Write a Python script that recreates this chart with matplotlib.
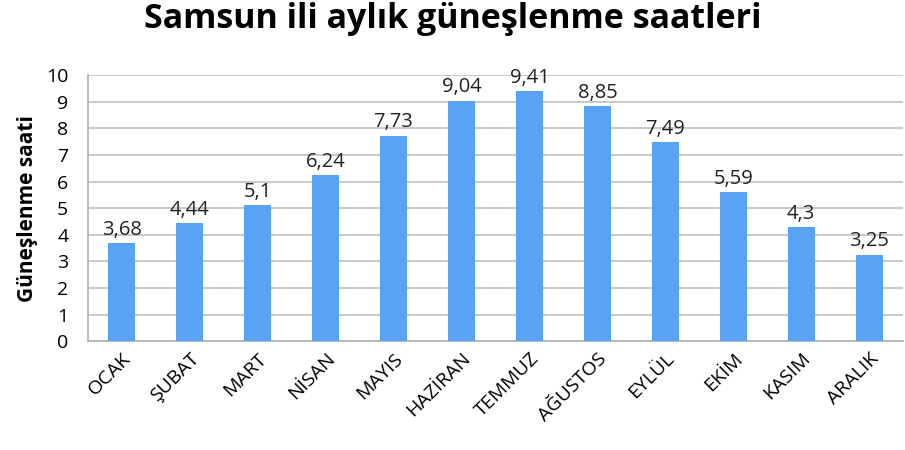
import matplotlib
matplotlib.use("Agg")
import matplotlib.pyplot as plt

months = ["OCAK", "ŞUBAT", "MART", "NİSAN", "MAYIS", "HAZİRAN",
          "TEMMUZ", "AĞUSTOS", "EYLÜL", "EKİM", "KASIM", "ARALIK"]
hours = [3.68, 4.44, 5.1, 6.24, 7.73, 9.04, 9.41, 8.85, 7.49, 5.59, 4.3, 3.25]
hour_labels = ["3,68", "4,44", "5,1", "6,24", "7,73", "9,04",
               "9,41", "8,85", "7,49", "5,59", "4,3", "3,25"]
yticks = list(range(0, 11))

plt.rcParams["font.family"] = ["Open Sans", "DejaVu Sans"]

fig = plt.figure(figsize=(9.05, 4.5), dpi=100)
ax = fig.add_axes([0.097, 0.242, 0.901, 0.591])

x = range(len(months))
bars = ax.bar(x, hours, width=0.4, color="#5aa2f4", zorder=3)
for b, lab in zip(bars, hour_labels):
    ax.text(b.get_x() + b.get_width() / 2, b.get_height() + 0.12, lab,
            ha="center", va="bottom", fontsize=14.5, color="#222222")

ax.set_xlim(-0.5, len(months) - 0.5)
ax.set_ylim(0, 10)
ax.set_yticks(yticks)
ax.yaxis.grid(True, color="#c0c0c0", linewidth=1.2, zorder=0)
ax.tick_params(axis="y", length=0, labelsize=14, pad=14)
ax.tick_params(axis="x", length=0, labelsize=14, pad=6)
ax.set_xticks(list(x))
ax.set_xticklabels(months, rotation=45, ha="right", rotation_mode="anchor")
for s in ["top", "right"]:
    ax.spines[s].set_visible(False)
for s in ["left", "bottom"]:
    ax.spines[s].set_color("#b0b0b0")
    ax.spines[s].set_linewidth(1.2)

ax.set_ylabel("Güneşlenme saati", fontsize=15, fontweight="bold", labelpad=6)
fig.suptitle("Samsun ili aylık güneşlenme saatleri", fontsize=24.5,
             fontweight="bold", y=0.995)

fig.savefig("out.png", dpi=100)
